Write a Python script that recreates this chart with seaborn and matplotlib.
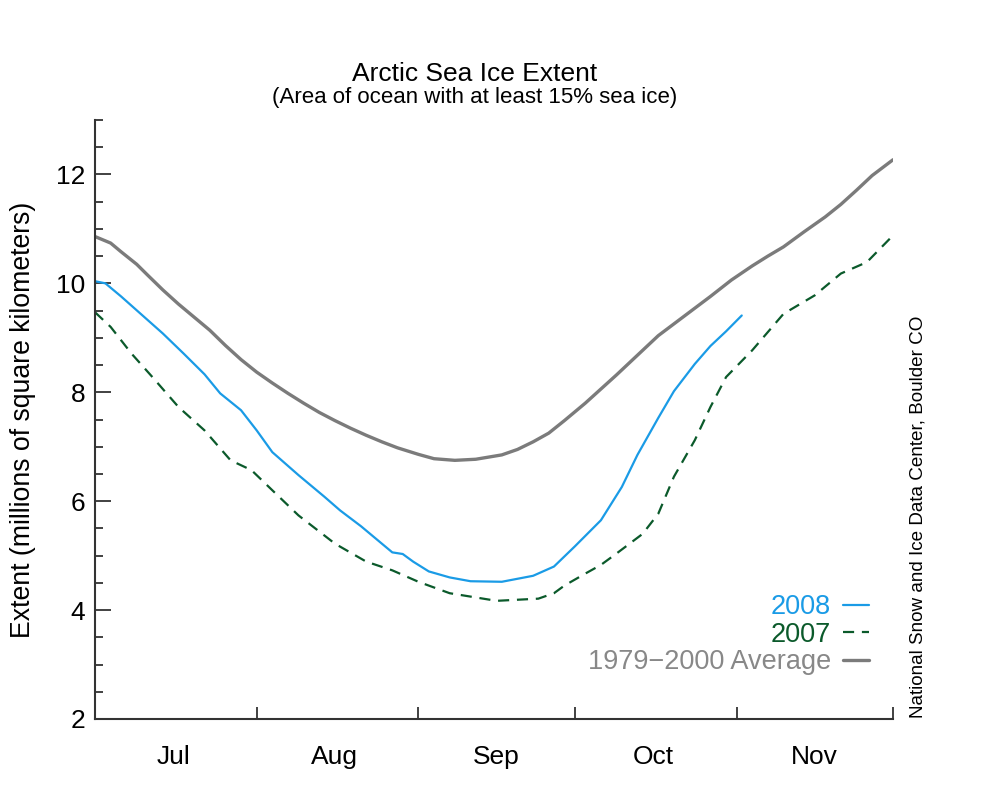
import pandas as pd
import matplotlib
matplotlib.use("Agg")
import matplotlib.pyplot as plt
import matplotlib.dates as mdates
from matplotlib.ticker import MultipleLocator, NullFormatter
import seaborn as sns

# Datos (dias desde el 1 de julio, millones de km2)
start = pd.Timestamp("2008-07-01")

avg_days = [0, 3, 5, 8, 10, 13, 16, 19, 22, 25, 28, 31, 34, 37, 40, 43, 46,
            49, 52, 55, 58, 62, 65, 69, 73, 78, 81, 84, 87, 90, 94, 97, 100,
            104, 108, 113, 118, 122, 126, 129, 132, 136, 140, 143, 146, 149,
            153]
avg_vals = [10.86, 10.74, 10.58, 10.35, 10.16, 9.88, 9.62, 9.38, 9.14, 8.86,
            8.60, 8.37, 8.17, 7.98, 7.80, 7.63, 7.48, 7.34, 7.21, 7.09, 6.98,
            6.86, 6.78, 6.75, 6.77, 6.85, 6.95, 7.09, 7.25, 7.48, 7.80, 8.06,
            8.32, 8.68, 9.04, 9.40, 9.76, 10.06, 10.32, 10.50, 10.67, 10.95,
            11.22, 11.45, 11.71, 11.98, 12.27]

y2008_days = [0, 2, 5, 9, 13, 17, 21, 24, 28, 31, 34, 39, 44, 47, 51, 55, 57,
              59, 61, 64, 68, 72, 78, 84, 88, 92, 97, 101, 104, 108, 111, 115,
              118, 121, 124]
y2008_vals = [10.04, 10.00, 9.76, 9.42, 9.08, 8.71, 8.33, 7.98, 7.67, 7.30,
              6.90, 6.48, 6.08, 5.83, 5.54, 5.22, 5.06, 5.03, 4.89, 4.71, 4.60,
              4.53, 4.52, 4.63, 4.80, 5.17, 5.65, 6.26, 6.85, 7.53, 8.02, 8.52,
              8.85, 9.12, 9.41]

y2007_days = [0, 3, 7, 11, 16, 21, 26, 30, 34, 39, 46, 52, 57, 62, 68, 77, 85,
              88, 90, 94, 97, 100, 105, 108, 111, 115, 118, 121, 126, 132, 138,
              143, 148, 153]
y2007_vals = [9.47, 9.20, 8.71, 8.28, 7.73, 7.30, 6.75, 6.57, 6.20, 5.74, 5.22,
              4.89, 4.73, 4.52, 4.31, 4.17, 4.21, 4.31, 4.45, 4.67, 4.83, 5.04,
              5.40, 5.77, 6.45, 7.12, 7.73, 8.28, 8.77, 9.44, 9.78, 10.18,
              10.39, 10.88]

labels = ["2008", "2007", "1979\u22122000 Average"]
colors = ["#1a9be6", "#0b5a2b", "#7b7b7b"]
text_colors = ["#1a9be6", "#0b5a2b", "#888888"]


def to_df(days, vals):
    return pd.DataFrame({"date": start + pd.to_timedelta(days, unit="D"),
                         "extent": vals})


df_avg = to_df(avg_days, avg_vals)
df_08 = to_df(y2008_days, y2008_vals)
df_07 = to_df(y2007_days, y2007_vals)

sns.set_style("ticks")
plt.rcParams["font.family"] = ["Liberation Sans", "DejaVu Sans"]
plt.rcParams["text.color"] = "black"
plt.rcParams["axes.labelcolor"] = "black"
plt.rcParams["xtick.labelcolor"] = "black"
plt.rcParams["ytick.labelcolor"] = "black"

fig = plt.figure(figsize=(10, 8), dpi=100)
ax = fig.add_axes([0.095, 0.10125, 0.798, 0.74875])

sns.lineplot(data=df_08, x="date", y="extent", ax=ax, color=colors[0],
             linewidth=1.6, label=labels[0])
sns.lineplot(data=df_07, x="date", y="extent", ax=ax, color=colors[1],
             linewidth=1.6, label=labels[1])
ax.lines[1].set_dashes([5, 3.5])
sns.lineplot(data=df_avg, x="date", y="extent", ax=ax, color=colors[2],
             linewidth=2.4, label=labels[2])

ax.set_xlim(start, pd.Timestamp("2008-12-01"))
ax.set_ylim(2, 13)

# ejes
for s in ["top", "right"]:
    ax.spines[s].set_visible(False)
for s in ["left", "bottom"]:
    ax.spines[s].set_linewidth(1.5)
    ax.spines[s].set_color("#333333")

ax.yaxis.set_major_locator(MultipleLocator(2))
ax.yaxis.set_minor_locator(MultipleLocator(0.5))
ax.tick_params(axis="y", which="major", direction="in", length=11.5,
               width=1.3, color="#333333", labelsize=19, pad=7)
ax.tick_params(axis="y", which="minor", direction="in", length=6,
               width=1.3, color="#333333")

ax.xaxis.set_major_locator(mdates.MonthLocator())
ax.xaxis.set_major_formatter(NullFormatter())
ax.xaxis.set_minor_locator(mdates.MonthLocator(bymonthday=16))
ax.xaxis.set_minor_formatter(mdates.DateFormatter("%b"))
ax.tick_params(axis="x", which="major", direction="in", length=8.5,
               width=1.3, color="#333333")
ax.tick_params(axis="x", which="minor", length=0, labelsize=19, pad=19)

ax.set_xlabel("")
ax.set_ylabel("Extent (millions of square kilometers)", fontsize=19.2,
              labelpad=14)

# leyenda
handles = ax.get_legend_handles_labels()[0]
leg = ax.legend(handles=handles, labels=labels, loc="lower right",
                bbox_to_anchor=(0.97, 0.073), frameon=False, markerfirst=False,
                fontsize=19.5, handlelength=0.95, handletextpad=0.45,
                labelspacing=0.06, borderpad=0, borderaxespad=0,
                labelcolor=text_colors)

fig.text(0.475, 0.908, "Arctic Sea Ice Extent", ha="center", va="center",
         fontsize=19)
fig.text(0.475, 0.878, "(Area of ocean with at least 15% sea ice)",
         ha="center", va="center", fontsize=16)
fig.text(0.918, 0.1025, "National Snow and Ice Data Center, Boulder CO",
         rotation=90, ha="center", va="bottom", fontsize=13.6)

plt.savefig("out.png", dpi=100, facecolor="white")
print("grafico guardado")
